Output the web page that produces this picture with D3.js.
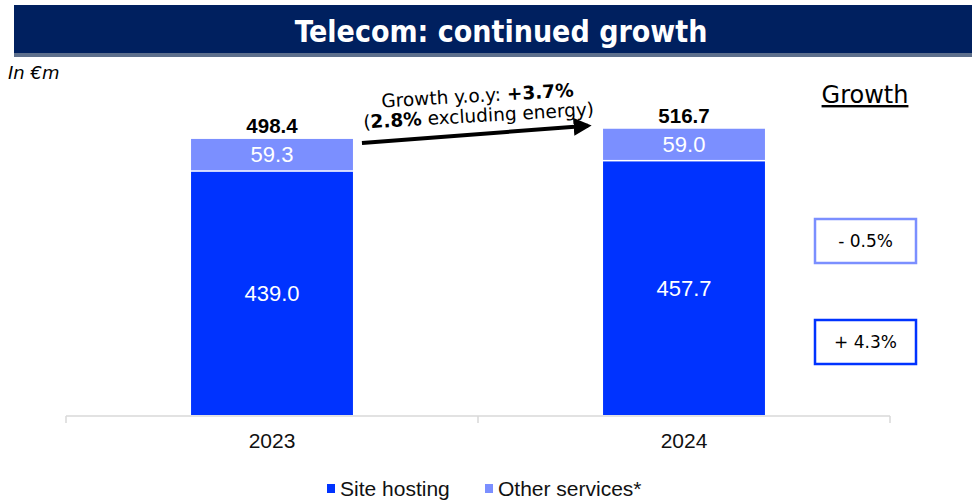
<!DOCTYPE html>
<html>
<head>
<meta charset="utf-8">
<script src="https://cdn.jsdelivr.net/npm/d3@7"></script>
<style>
  html, body { margin: 0; padding: 0; background: #fff; }
  svg { display: block; }
  .tah { font-family: "DejaVu Sans", sans-serif; }
  .tahc { font-family: "DejaVu Sans Condensed", "DejaVu Sans", sans-serif; font-stretch: condensed; }
  .ari { font-family: "Liberation Sans", Arial, sans-serif; }
</style>
</head>
<body>
<svg id="chart" width="972" height="503"></svg>
<script>
// Telecom revenue, in €m
const categories = ["2023", "2024"];
const siteHosting = [439.0, 457.7];
const otherServices = [59.3, 59.0];
const totals = [498.4, 516.7];
const seriesNames = ["Site hosting", "Other services*"];
const growthLabels = ["- 0.5%", "+ 4.3%"]; // other services, site hosting

const colors = { site: "#0033ff", other: "#7b8fff", navy: "#00205f" };

const svg = d3.select("#chart");

// Header band
svg.append("rect").attr("x", 14).attr("y", 5).attr("width", 958).attr("height", 49).attr("fill", colors.navy);
svg.append("rect").attr("x", 14).attr("y", 53).attr("width", 958).attr("height", 4).attr("fill", "#5d6f8c");
svg.append("text").attr("class", "tahc")
  .attr("x", 501).attr("y", 42)
  .attr("text-anchor", "middle")
  .attr("fill", "#fff").attr("font-size", 30).attr("font-weight", "bold")
  .text("Telecom: continued growth");

svg.append("text").attr("class", "tah")
  .attr("x", 8).attr("y", 79)
  .attr("font-size", 18).attr("font-style", "italic")
  .text("In €m");

// Scales
const x = d3.scaleBand().domain(categories).range([66, 890]).padding(0);
const barW = x.bandwidth() * 0.393;
const y = d3.scaleLinear().domain([0, 560]).range([415, 415 - 0.554 * 560]);

// Axis: baseline with category ticks
const axisG = svg.append("g").attr("transform", "translate(0,416)");
axisG.append("line").attr("x1", 66).attr("x2", 890).attr("y1", 0).attr("y2", 0)
  .attr("stroke", "#d9d9d9").attr("stroke-width", 1.5);
const tickXs = [66].concat(categories.map(c => x(c) + x.bandwidth()));
axisG.selectAll("line.tick").data(tickXs).join("line").attr("class", "tick")
  .attr("x1", d => d).attr("x2", d => d).attr("y1", 0).attr("y2", 7)
  .attr("stroke", "#d9d9d9").attr("stroke-width", 1.5);
axisG.selectAll("text").data(categories).join("text").attr("class", "ari")
  .attr("x", d => x(d) + x.bandwidth() / 2).attr("y", 32)
  .attr("text-anchor", "middle").attr("font-size", 21).attr("fill", "#111")
  .text(d => d);

const cx = i => x(categories[i]) + x.bandwidth() / 2;

// Stacked bars
const bars = svg.append("g");
categories.forEach((c, i) => {
  const x0 = cx(i) - barW / 2;
  bars.append("rect")
    .attr("x", x0).attr("width", barW)
    .attr("y", y(siteHosting[i])).attr("height", y(0) - y(siteHosting[i]))
    .attr("fill", colors.site);
  const top = y(siteHosting[i] + otherServices[i]);
  bars.append("rect")
    .attr("x", x0).attr("width", barW)
    .attr("y", top).attr("height", y(siteHosting[i]) - top - 1.5)
    .attr("fill", colors.other);

  bars.append("text").attr("class", "ari")
    .attr("x", cx(i)).attr("y", (y(siteHosting[i]) + y(0)) / 2 + 8)
    .attr("text-anchor", "middle").attr("fill", "#fff").attr("font-size", 22)
    .text(siteHosting[i].toFixed(1));
  bars.append("text").attr("class", "ari")
    .attr("x", cx(i)).attr("y", (top + y(siteHosting[i]) - 2) / 2 + 8)
    .attr("text-anchor", "middle").attr("fill", "#fff").attr("font-size", 22)
    .text(otherServices[i].toFixed(1));
  bars.append("text").attr("class", "ari")
    .attr("x", cx(i)).attr("y", y(totals[i]) - 6)
    .attr("text-anchor", "middle").attr("fill", "#000").attr("font-size", 20.5).attr("font-weight", "bold")
    .text(totals[i].toFixed(1));
});

// Year-on-year arrow between the two totals
const ax0 = cx(0) + barW / 2 + 9, ay0 = y(totals[0]) + 4;
const ax1 = cx(1) - barW / 2 - 15, ay1 = y(totals[1]) - 3;
svg.append("defs").append("marker")
  .attr("id", "head").attr("viewBox", "0 0 10 10").attr("refX", 8).attr("refY", 5)
  .attr("markerWidth", 4.5).attr("markerHeight", 4.5).attr("orient", "auto")
  .append("path").attr("d", "M0,0 L10,5 L0,10 z").attr("fill", "#000");
svg.append("line")
  .attr("x1", ax0).attr("y1", ay0).attr("x2", ax1).attr("y2", ay1)
  .attr("stroke", "#000").attr("stroke-width", 4).attr("marker-end", "url(#head)");

const angle = Math.atan2(ay1 - ay0, ax1 - ax0) * 180 / Math.PI * 0.75;
const note = svg.append("g").attr("transform", `translate(478,105) rotate(${angle})`);
const l1 = note.append("text").attr("class", "tah").attr("x", 0).attr("y", -3)
  .attr("text-anchor", "middle").attr("font-size", 18.5);
l1.append("tspan").text("Growth y.o.y: ");
l1.append("tspan").attr("font-weight", "bold").text("+3.7%");
const l2 = note.append("text").attr("class", "tah").attr("x", 0).attr("y", 17)
  .attr("text-anchor", "middle").attr("font-size", 18.5);
l2.append("tspan").text("(");
l2.append("tspan").attr("font-weight", "bold").text("2.8%");
l2.append("tspan").text(" excluding energy)");

// Growth column
svg.append("text").attr("class", "tah")
  .attr("x", 865).attr("y", 103).attr("text-anchor", "middle")
  .attr("font-size", 24).attr("text-decoration", "underline")
  .text("Growth");

const boxes = [
  { label: growthLabels[0], color: colors.other, cy: 241 },
  { label: growthLabels[1], color: colors.site, cy: 342 }
];
boxes.forEach(b => {
  svg.append("rect").attr("x", 815).attr("y", b.cy - 22).attr("width", 101).attr("height", 44)
    .attr("fill", "#fff").attr("stroke", b.color).attr("stroke-width", 2.5);
  svg.append("text").attr("class", "tah")
    .attr("x", 865.5).attr("y", b.cy + 6).attr("text-anchor", "middle")
    .attr("font-size", 17).text(b.label);
});

// Legend
const legend = svg.append("g").attr("class", "ari");
const legendItems = [
  { name: seriesNames[0], color: colors.site, x: 327 },
  { name: seriesNames[1], color: colors.other, x: 485 }
];
legendItems.forEach(d => {
  legend.append("rect").attr("x", d.x).attr("y", 484).attr("width", 8).attr("height", 9).attr("fill", d.color);
  legend.append("text").attr("x", d.x + 13).attr("y", 496).attr("font-size", 21).attr("fill", "#111").text(d.name);
});
</script>
</body>
</html>
